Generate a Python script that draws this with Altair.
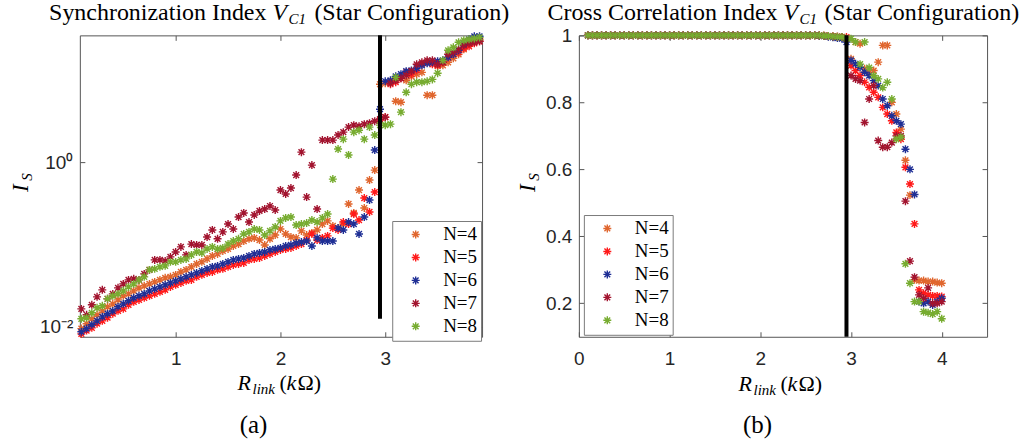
import altair as alt
import pandas as pd

# ---------------- data ----------------
X = [0.10, 0.15, 0.20, 0.25, 0.30, 0.35, 0.40, 0.45, 0.50, 0.55,
     0.60, 0.65, 0.70, 0.75, 0.80, 0.85, 0.90, 0.95, 1.00, 1.05,
     1.10, 1.15, 1.20, 1.25, 1.30, 1.35, 1.40, 1.45, 1.50, 1.55,
     1.60, 1.65, 1.70, 1.75, 1.80, 1.85, 1.90, 1.95, 2.00, 2.05,
     2.10, 2.15, 2.20, 2.25, 2.30, 2.35, 2.40, 2.45, 2.50, 2.55,
     2.60, 2.65, 2.70, 2.75, 2.80, 2.85, 2.90, 2.95, 3.00, 3.05,
     3.10, 3.15, 3.20, 3.25, 3.30, 3.35, 3.40, 3.45, 3.50, 3.55,
     3.60, 3.65, 3.70, 3.75, 3.80, 3.85, 3.90, 3.95, 4.00]

SERIES = ["N=4", "N=5", "N=6", "N=7", "N=8"]
COLORS = ["#E0662E", "#FF1A1A", "#1F2F95", "#A2142F", "#77AC30"]

# (a) Synchronization index (log scale), x = 0.10 ... 3.90
SYNC_N4 = [0.0095, 0.0109, 0.0125, 0.0140, 0.0156, 0.0175, 0.0190, 0.0212, 0.0238, 0.0251,
           0.0273, 0.0297, 0.0314, 0.0332, 0.0351, 0.0371, 0.0393, 0.0404, 0.0427, 0.0464,
           0.0491, 0.0534, 0.0580, 0.0614, 0.0667, 0.0725, 0.0767, 0.0834, 0.0882, 0.0959,
           0.101, 0.110, 0.117, 0.120, 0.113, 0.0986, 0.117, 0.130, 0.154, 0.134,
           0.123, 0.120, 0.146, 0.130, 0.138, 0.150, 0.177, 0.193, 0.168, 0.158,
           0.177, 0.310, 0.241, 0.458, 0.277, 0.605, 0.800, 8.82, 9.07, 9.59,
           5.49, 5.34, 9.86, 11.0, 11.7, 12.3, 6.49, 6.49, 14.6, 15.0,
           16.3, 18.2, 20.4, 23.4, 26.9, 30.1, 31.0]
SYNC_N5 = [0.0082, 0.0090, 0.0097, 0.0109, 0.0118, 0.0129, 0.0144, 0.0156, 0.0165, 0.0185,
           0.0201, 0.0212, 0.0225, 0.0238, 0.0251, 0.0266, 0.0281, 0.0305, 0.0323, 0.0341,
           0.0361, 0.0371, 0.0404, 0.0427, 0.0451, 0.0464, 0.0491, 0.0505, 0.0534, 0.0564,
           0.0580, 0.0597, 0.0649, 0.0667, 0.0686, 0.0725, 0.0767, 0.0811, 0.0858, 0.0882,
           0.0907, 0.0959, 0.101, 0.113, 0.134, 0.113, 0.120, 0.127, 0.158, 0.150,
           0.187, 0.177, 0.234, 0.198, 0.366, 0.248, 0.433, 3.23, 3.51, 8.82,
           9.33, 10.4, 12.3, 11.7, 13.0, 15.4, 16.3, 15.4, 15.0, 16.3,
           18.7, 20.4, 21.5, 24.1, 25.5, 27.7, 29.3]
SYNC_N6 = [0.0087, 0.0095, 0.0106, 0.0118, 0.0132, 0.0144, 0.0156, 0.0175, 0.0190, 0.0207,
           0.0225, 0.0238, 0.0251, 0.0273, 0.0289, 0.0305, 0.0323, 0.0341, 0.0361, 0.0382,
           0.0404, 0.0427, 0.0451, 0.0477, 0.0505, 0.0534, 0.0549, 0.0580, 0.0614, 0.0649,
           0.0667, 0.0686, 0.0725, 0.0767, 0.0789, 0.0811, 0.0858, 0.0882, 0.0907, 0.0959,
           0.0986, 0.104, 0.107, 0.110, 0.0959, 0.120, 0.110, 0.110, 0.110, 0.158,
           0.150, 0.187, 0.177, 0.134, 0.215, 0.346, 1.40, 4.39, 9.59, 9.86,
           11.0, 11.7, 12.7, 13.0, 13.8, 15.0, 15.85, 16.3, 16.8, 17.2,
           18.7, 20.4, 22.8, 26.9, 31.0, 33.7, 33.7]
SYNC_N7 = [0.0165, 0.0140, 0.0185, 0.0231, 0.0281, 0.0219, 0.0251, 0.0297, 0.0332, 0.0371,
           0.0382, 0.0371, 0.0439, 0.0491, 0.0649, 0.0649, 0.0631, 0.0706, 0.0811, 0.0933,
           0.0746, 0.101, 0.0986, 0.0986, 0.123, 0.150, 0.117, 0.142, 0.177, 0.154,
           0.215, 0.241, 0.187, 0.228, 0.255, 0.269, 0.293, 0.262, 0.458, 0.410,
           0.484, 0.696, 1.32, 0.376, 0.920, 0.269, 1.85, 1.85, 1.85, 2.13,
           2.31, 2.66, 2.81, 2.73, 2.89, 2.97, 3.14, 3.32, 3.51, 9.07,
           9.86, 10.4, 11.3, 12.7, 15.4, 16.3, 17.2, 17.2, 15.4, 16.3,
           20.4, 21.5, 23.4, 26.2, 27.7, 28.5, 29.3]
SYNC_N8 = [0.0125, 0.0129, 0.0148, 0.0170, 0.0180, 0.0219, 0.0238, 0.0251, 0.0273, 0.0305,
           0.0332, 0.0371, 0.0404, 0.0491, 0.0505, 0.0534, 0.0549, 0.0614, 0.0614, 0.0649,
           0.0667, 0.0746, 0.0811, 0.0789, 0.0882, 0.0933, 0.0882, 0.0907, 0.101, 0.110,
           0.117, 0.134, 0.142, 0.154, 0.150, 0.130, 0.146, 0.163, 0.193, 0.210,
           0.215, 0.172, 0.177, 0.182, 0.198, 0.187, 0.210, 0.234, 0.622, 1.44,
           1.90, 1.22, 2.31, 2.44, 1.90, 2.66, 2.13, 2.81, 2.81, 2.89,
           10.7, 4.04, 7.05, 8.82, 9.33, 9.33, 9.59, 10.1, 12.0, 17.2,
           22.8, 24.8, 28.5, 30.1, 31.0, 31.8, 32.7]

# (b) Cross correlation index, x = 0.10 ... 4.00
CORR_N4 = [1.0, 1.0, 1.0, 1.0, 1.0, 1.0, 1.0, 1.0, 1.0, 1.0,
           1.0, 1.0, 1.0, 1.0, 1.0, 1.0, 1.0, 1.0, 1.0, 1.0,
           1.0, 1.0, 1.0, 1.0, 1.0, 1.0, 1.0, 1.0, 1.0, 1.0,
           1.0, 1.0, 1.0, 1.0, 1.0, 1.0, 1.0, 1.0, 1.0, 1.0,
           1.0, 1.0, 1.0, 1.0, 1.0, 1.0, 1.0, 1.0, 1.0, 1.0,
           1.0, 0.999, 0.998, 0.997, 0.996, 0.995, 0.994, 0.99, 0.93, 0.98,
           0.975, 0.90, 0.89, 0.895, 0.92, 0.97, 0.97, 0.80, 0.765, 0.72,
           0.627, 0.523, 0.27, 0.268, 0.268, 0.265, 0.265, 0.262, 0.26]
CORR_N5 = [1.0, 1.0, 1.0, 1.0, 1.0, 1.0, 1.0, 1.0, 1.0, 1.0,
           1.0, 1.0, 1.0, 1.0, 1.0, 1.0, 1.0, 1.0, 1.0, 1.0,
           1.0, 1.0, 1.0, 1.0, 1.0, 1.0, 1.0, 1.0, 1.0, 1.0,
           1.0, 1.0, 1.0, 1.0, 1.0, 1.0, 1.0, 1.0, 1.0, 1.0,
           1.0, 1.0, 1.0, 1.0, 1.0, 1.0, 1.0, 1.0, 1.0, 1.0,
           1.0, 1.0, 0.999, 0.998, 0.997, 0.996, 0.995, 0.995, 0.91, 0.895,
           0.88, 0.86, 0.845, 0.83, 0.815, 0.785, 0.765, 0.745, 0.71, 0.69,
           0.606, 0.556, 0.437, 0.24, 0.23, 0.225, 0.222, 0.222, 0.22]
CORR_N6 = [1.0, 1.0, 1.0, 1.0, 1.0, 1.0, 1.0, 1.0, 1.0, 1.0,
           1.0, 1.0, 1.0, 1.0, 1.0, 1.0, 1.0, 1.0, 1.0, 1.0,
           1.0, 1.0, 1.0, 1.0, 1.0, 1.0, 1.0, 1.0, 1.0, 1.0,
           1.0, 1.0, 1.0, 1.0, 1.0, 1.0, 1.0, 1.0, 1.0, 1.0,
           1.0, 1.0, 1.0, 1.0, 1.0, 1.0, 1.0, 1.0, 1.0, 1.0,
           1.0, 0.999, 0.998, 0.996, 0.994, 0.992, 0.99, 0.98, 0.925, 0.915,
           0.905, 0.89, 0.88, 0.865, 0.85, 0.81, 0.79, 0.76, 0.745, 0.735,
           0.66, 0.60, 0.525, 0.205, 0.20, 0.205, 0.195, 0.205, 0.215]
CORR_N7 = [1.0, 1.0, 1.0, 1.0, 1.0, 1.0, 1.0, 1.0, 1.0, 1.0,
           1.0, 1.0, 1.0, 1.0, 1.0, 1.0, 1.0, 1.0, 1.0, 1.0,
           1.0, 1.0, 1.0, 1.0, 1.0, 1.0, 1.0, 1.0, 1.0, 1.0,
           1.0, 1.0, 1.0, 1.0, 1.0, 1.0, 1.0, 1.0, 1.0, 1.0,
           1.0, 1.0, 1.0, 1.0, 1.0, 1.0, 1.0, 1.0, 1.0, 1.0,
           1.0, 1.0, 0.999, 0.998, 0.997, 0.996, 0.995, 0.99, 0.88, 0.87,
           0.865, 0.74, 0.81, 0.85, 0.686, 0.666, 0.666, 0.68, 0.70, 0.70,
           0.505, 0.326, 0.278, 0.225, 0.215, 0.246, 0.20, 0.20, 0.205]
CORR_N8 = [1.0, 1.0, 1.0, 1.0, 1.0, 1.0, 1.0, 1.0, 1.0, 1.0,
           1.0, 1.0, 1.0, 1.0, 1.0, 1.0, 1.0, 1.0, 1.0, 1.0,
           1.0, 1.0, 1.0, 1.0, 1.0, 1.0, 1.0, 1.0, 1.0, 1.0,
           1.0, 1.0, 1.0, 1.0, 1.0, 1.0, 1.0, 1.0, 1.0, 1.0,
           1.0, 1.0, 1.0, 1.0, 1.0, 1.0, 1.0, 1.0, 1.0, 1.0,
           1.0, 1.0, 0.999, 0.998, 0.997, 0.996, 0.995, 0.99, 0.99, 0.98,
           0.914, 0.98, 0.904, 0.88, 0.87, 0.844, 0.86, 0.81, 0.69, 0.696,
           0.318, 0.26, 0.205, 0.205, 0.175, 0.172, 0.168, 0.175, 0.154]

# threshold line at R_link = 2.95 kOhm
VLINE_X = [2.95]
VLINE_SYNC = [34.6, 0.0125]
VLINE_CORR = [1.0, 0.1]

# axis ticks
SYNC_XTICKS = [1, 2, 3]
SYNC_YTICKS = [0.01, 1]
CORR_XTICKS = [0, 1, 2, 3, 4]
CORR_YTICKS = [0.2, 0.4, 0.6, 0.8, 1.0]

# ---------------- styling ----------------
SERIF = "Liberation Serif"
SANS = "Liberation Sans"
AX = "#555555"
LBL = "#262626"
ASTER = "M-1,0L1,0M0,-1L0,1M-0.72,-0.72L0.72,0.72M-0.72,0.72L0.72,-0.72"
W1, W2, H = 403, 409, 302
ONE = pd.DataFrame({"k": [0]})


def long_df(lists):
    rows = []
    for name, vals in zip(SERIES, lists):
        for x, v in zip(X, vals):
            rows.append({"x": x, "v": v, "N": name})
    return pd.DataFrame(rows)


def axis_main(orient, values, pad, expr=None, fmt="~g"):
    kw = dict(orient=orient, values=values, ticks=False, tickSize=0, domain=False, grid=False,
              title=None, labelFont=SANS, labelFontSize=19, labelColor=LBL,
              labelPadding=pad, labelFlush=False, labelOverlap=False, format=fmt)
    if expr:
        kw["labelExpr"] = expr
    return alt.Axis(**kw)


def axis_tick(orient, values, offset):
    return alt.Axis(orient=orient, values=values, offset=offset, labels=False, ticks=True,
                    tickSize=5, tickWidth=1, tickColor=AX, domain=False, grid=False, title=None)


def txt(t, x, y, size, style="normal", align="left", angle=0):
    return alt.Chart(ONE).mark_text(
        text=t, fontSize=size, fontStyle=style, align=align, baseline="alphabetic",
        angle=angle, font=SERIF, color="black"
    ).encode(x=alt.value(x), y=alt.value(y))


def anchor(x, y):
    return alt.Chart(ONE).mark_rect(color="white").encode(
        x=alt.value(x), x2=alt.value(x + 1), y=alt.value(y), y2=alt.value(y + 1))


def panel(df, vline_y, xs, ys, xt, yt, W, yexpr, legxy, pieces, extra):
    vdf = pd.DataFrame({"x": VLINE_X, "y1": [vline_y[0]], "y2": [vline_y[1]]})
    legend = alt.Legend(
        title=None, orient="none", legendX=legxy[0], legendY=legxy[1],
        symbolType=ASTER, symbolSize=64, symbolStrokeWidth=1.4,
        labelFont=SERIF, labelFontSize=19, labelColor="black",
        padding=4, rowPadding=3, strokeColor="#7a7a7a", fillColor="white",
        symbolOffset=10, labelOffset=18)
    pts = alt.Chart(df).mark_point(shape=ASTER, filled=False, size=64, strokeWidth=1.4,
                                   opacity=1).encode(
        x=alt.X("x:Q", scale=xs, axis=axis_main("bottom", xt, 13)),
        y=alt.Y("v:Q", scale=ys, axis=axis_main("left", yt, 7, expr=yexpr)),
        color=alt.Color("N:N", scale=alt.Scale(domain=SERIES, range=COLORS), legend=legend),
    )
    rule = alt.Chart(vdf).mark_rule(color="black", strokeWidth=4).encode(
        x=alt.X("x:Q", scale=xs, axis=axis_tick("top", xt, -H)),
        y=alt.Y("y1:Q", scale=ys, axis=axis_tick("right", yt, -W)),
        y2="y2:Q")
    ghost = alt.Chart(vdf).mark_rule(opacity=0).encode(
        x=alt.X("x:Q", scale=xs, axis=axis_tick("bottom", xt, -H)),
        y=alt.Y("y1:Q", scale=ys, axis=axis_tick("left", yt, -W)),
        y2="y2:Q")
    texts = [txt(*p) for p in pieces]
    return alt.layer(pts, rule, ghost, *texts, *extra).resolve_axis(
        x="independent", y="independent").properties(width=W, height=H)


left_pieces = [
    ("Synchronization Index", 187, -15, 24, "normal", "right"),
    ("V", 193, -15, 24, "italic", "left"),
    ("C1", 209, -11, 15, "italic", "left"),
    ("(Star Configuration)", 235, -15, 24, "normal", "left"),
    ("R", 158, 355, 22, "italic", "left"),
    ("link", 173, 359, 15, "italic", "left"),
    ("(", 200, 355, 22, "normal", "left"),
    ("k", 207, 355, 22, "italic", "left"),
    ("Ω)", 218, 355, 22, "normal", "left"),
    ("I", -52, 153, 23, "italic", "center", 270),
    ("S", -48, 142, 15, "italic", "center", 270),
    ("(a)", 174, 398, 25, "normal", "center"),
]
right_pieces = [
    ("Cross Correlation Index", 199, -15, 24, "normal", "right"),
    ("V", 205, -15, 24, "italic", "left"),
    ("C1", 221, -11, 15, "italic", "left"),
    ("(Star Configuration)", 246, -15, 24, "normal", "left"),
    ("R", 160, 356, 22, "italic", "left"),
    ("link", 175, 360, 15, "italic", "left"),
    ("(", 202, 356, 22, "normal", "left"),
    ("k", 209, 356, 22, "italic", "left"),
    ("Ω)", 220, 356, 22, "normal", "left"),
    ("I", -44, 153, 23, "italic", "center", 270),
    ("S", -40, 142, 15, "italic", "center", 270),
    ("(b)", 179, 398, 25, "normal", "center"),
]

left = panel(
    long_df([SYNC_N4, SYNC_N5, SYNC_N6, SYNC_N7, SYNC_N8]), VLINE_SYNC,
    alt.Scale(domain=[0.0857, 3.924], nice=False, zero=False),
    alt.Scale(type="log", domain=[0.00756, 34.6], nice=False),
    SYNC_XTICKS, SYNC_YTICKS, W1,
    "datum.value >= 1 ? '10⁰' : '10⁻²'", (313, 186), left_pieces, [anchor(-79, -33)])

right = panel(
    long_df([CORR_N4, CORR_N5, CORR_N6, CORR_N7, CORR_N8]), VLINE_CORR,
    alt.Scale(domain=[0, 4.5], nice=False, zero=False),
    alt.Scale(domain=[0.1, 1.0], nice=False, zero=False),
    CORR_XTICKS, CORR_YTICKS, W2, None, (5, 180), right_pieces, [anchor(445, 412)])

chart = alt.hconcat(left, right, spacing=97, bounds="flush").resolve_scale(
    color="independent").properties(padding=0).configure_view(
    stroke=AX, strokeWidth=1).configure_legend(labelFont=SERIF, labelFontSize=19)

chart.save("out.html", embed_options={"renderer": "svg", "actions": False})
